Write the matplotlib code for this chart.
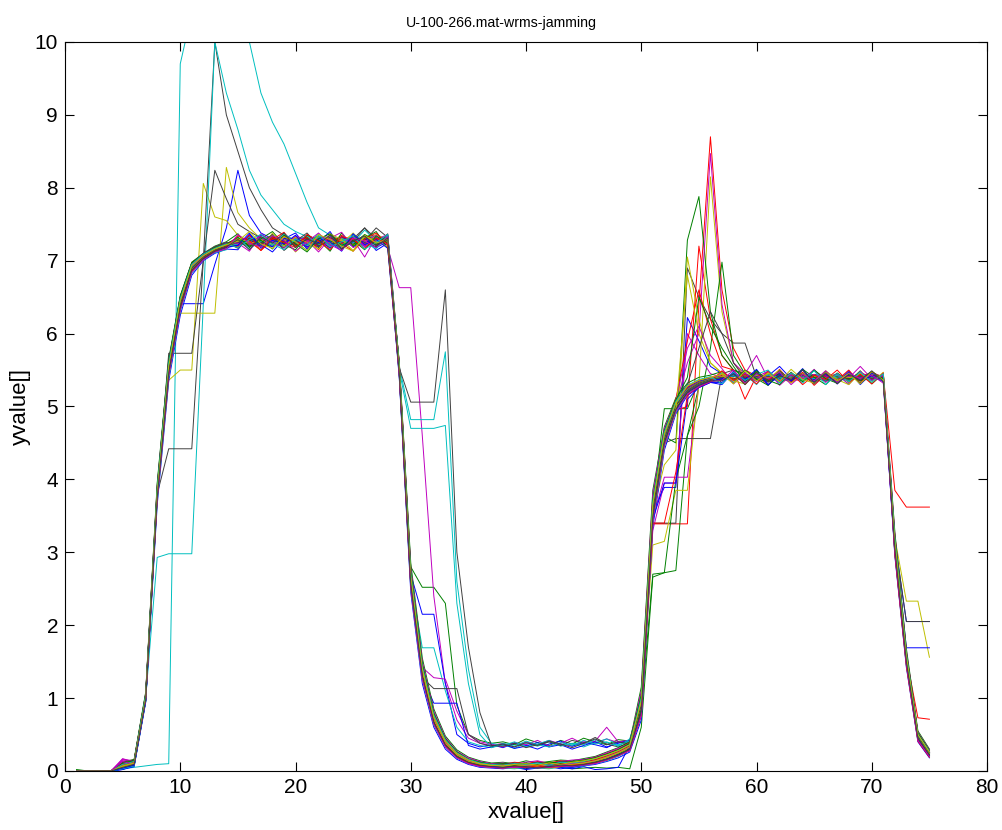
import matplotlib
matplotlib.use("Agg")
import matplotlib.pyplot as plt

plt.rcParams['font.family'] = ['Liberation Sans', 'DejaVu Sans']

# sample index 1..75
x = list(range(1, 76))

# one list per trace (75 values each)
s01 = [0, 0, 0, 0, 0.05, 0.12, 0.98, 3.75, 5.45, 6.41, 6.41, 6.41, 6.95, 7.45,
       8.24, 7.62, 7.38, 7.30, 7.22, 7.28, 7.33, 7.20, 7.27, 7.31, 7.24, 7.29, 7.22, 7.30,
       5.45, 2.55, 1.30, 0.68, 0.36, 0.21, 0.13, 0.09, 0.07,
       0.06, 0.07, 0.05, 0.08, 0.06, 0.09, 0.08, 0.11, 0.14, 0.19, 0.25, 0.33,
       0.85, 3.55, 4.52, 4.98, 5.20, 5.31, 5.36,
       5.41, 5.35, 5.44, 5.38, 5.42, 5.33, 5.40, 5.45, 5.37, 5.41, 5.36, 5.43, 5.39, 5.42, 5.40,
       3.15, 2.05, 2.05, 2.05]
s02 = [0.02, 0, 0, 0, 0.10, 0.08, 1.02, 3.82, 5.52, 6.42, 6.92, 7.06, 7.14, 7.22,
       7.26, 7.20, 7.31, 7.25, 7.18, 7.29, 7.23, 7.34, 7.21, 7.27, 7.30, 7.24, 7.32, 7.28,
       5.55, 2.80, 2.52, 2.52, 2.30, 0.90, 0.50, 0.42, 0.38,
       0.40, 0.36, 0.44, 0.39, 0.35, 0.42, 0.37, 0.45, 0.40, 0.36, 0.43, 0.41,
       0.95, 3.62, 4.97, 4.97, 4.97, 5.34, 5.38,
       5.38, 5.44, 5.36, 5.41, 5.35, 5.43, 5.39, 5.46, 5.34, 5.40, 5.38, 5.42, 5.37, 5.41, 5.39,
       3.05, 1.52, 0.46, 0.24]
s03 = [0, 0, 0, 0, 0.06, 0.13, 1.00, 3.78, 5.50, 6.38, 6.88, 7.03, 7.16, 7.19,
       7.22, 7.30, 7.19, 7.27, 7.33, 7.21, 7.26, 7.29, 7.18, 7.31, 7.25, 7.22, 7.28, 7.33,
       5.48, 2.62, 1.33, 0.71, 0.37, 0.20, 0.12, 0.08, 0.06,
       0.05, 0.06, 0.07, 0.05, 0.08, 0.07, 0.09, 0.10, 0.12, 0.17, 0.23, 0.30,
       0.88, 3.39, 3.39, 3.39, 3.39, 6.40, 8.70,
       6.60, 5.80, 5.50, 5.42, 5.30, 5.44, 5.38, 5.35, 5.43, 5.40, 5.36, 5.41, 5.38, 5.44, 5.40,
       3.12, 1.58, 0.50, 0.26]
s04 = [0, 0, 0, 0, 0.03, 0.05, 0.07, 0.09, 0.10, 9.70, 10.40, 10.80, 10.90, 10.70,
       10.40, 10.00, 9.30, 8.90, 8.60, 8.20, 7.80, 7.45, 7.35, 7.28, 7.22, 7.30, 7.26, 7.31,
       5.52, 2.58, 1.38, 0.72, 0.40, 0.24, 0.15, 0.10, 0.08,
       0.07, 0.06, 0.08, 0.07, 0.09, 0.08, 0.10, 0.12, 0.15, 0.20, 0.26, 0.35,
       0.92, 3.58, 4.55, 5.02, 5.24, 5.33, 5.37,
       5.42, 5.37, 5.40, 5.44, 5.36, 5.41, 5.38, 5.43, 5.35, 5.40, 5.45, 5.37, 5.41, 5.38, 5.42,
       3.08, 1.55, 0.47, 0.25]
s05 = [0, 0, 0, 0, 0.17, 0.12, 0.99, 3.81, 5.48, 6.41, 6.91, 7.04, 7.13, 7.21,
       7.28, 7.24, 7.32, 7.19, 7.26, 7.30, 7.23, 7.27, 7.35, 7.20, 7.29, 7.05, 7.33, 7.18,
       6.63, 6.63, 4.60, 2.40, 1.20, 0.70, 0.45, 0.38, 0.35,
       0.38, 0.33, 0.40, 0.36, 0.42, 0.37, 0.34, 0.41, 0.38, 0.44, 0.39, 0.42,
       1.00, 3.50, 4.50, 4.96, 5.21, 5.30, 5.36,
       5.39, 5.43, 5.36, 5.41, 5.48, 5.35, 5.40, 5.37, 5.44, 5.39, 5.34, 5.42, 5.40, 5.36, 5.41,
       3.10, 1.53, 0.49, 0.26]
s06 = [0, 0, 0, 0, 0.07, 0.09, 1.01, 3.79, 5.36, 5.50, 5.50, 8.06, 7.60, 7.55,
       7.35, 7.26, 7.21, 7.30, 7.24, 7.28, 7.19, 7.32, 7.25, 7.22, 7.30, 7.27, 7.36, 7.29,
       5.50, 2.63, 1.36, 0.69, 0.39, 0.23, 0.14, 0.10, 0.07,
       0.06, 0.08, 0.06, 0.07, 0.05, 0.08, 0.09, 0.11, 0.13, 0.18, 0.24, 0.31,
       0.90, 3.61, 4.56, 5.01, 5.23, 5.32, 5.38,
       5.40, 5.36, 5.42, 5.38, 5.45, 5.39, 5.33, 5.41, 5.37, 5.43, 5.40, 5.36, 5.42, 5.46, 5.41,
       3.20, 2.33, 2.33, 1.56]
s07 = [0, 0, 0, 0, 0.04, 0.10, 0.97, 3.80, 4.42, 4.42, 4.42, 7.00, 10.00, 9.00,
       8.50, 8.00, 7.70, 7.45, 7.35, 7.28, 7.22, 7.30, 7.25, 7.33, 7.21, 7.27, 7.45, 7.32,
       5.53, 2.57, 1.34, 0.70, 0.38, 0.22, 0.13, 0.09, 0.07,
       0.06, 0.05, 0.07, 0.06, 0.08, 0.06, 0.08, 0.10, 0.13, 0.18, 0.25, 0.32,
       0.86, 3.40, 3.40, 3.40, 6.90, 6.50, 6.20,
       6.00, 5.87, 5.87, 5.40, 5.36, 5.40, 5.43, 5.37, 5.41, 5.35, 5.42, 5.39, 5.44, 5.38, 5.40,
       3.14, 1.57, 0.48, 0.25]
s08 = [0, 0, 0, 0, 0.09, 0.11, 1.03, 3.83, 5.53, 6.44, 6.93, 7.07, 7.17, 7.18,
       7.24, 7.31, 7.27, 7.20, 7.29, 7.23, 7.35, 7.26, 7.22, 7.30, 7.19, 7.28, 7.24, 7.35,
       5.47, 2.70, 2.15, 2.15, 1.20, 0.50, 0.38, 0.33, 0.36,
       0.32, 0.38, 0.35, 0.30, 0.37, 0.41, 0.34, 0.39, 0.36, 0.32, 0.40, 0.38,
       0.83, 3.56, 3.89, 3.89, 6.22, 5.90, 5.55,
       5.45, 5.38, 5.41, 5.36, 5.43, 5.39, 5.46, 5.35, 5.40, 5.42, 5.37, 5.44, 5.38, 5.41, 5.39,
       3.18, 1.69, 1.69, 1.69]
s09 = [0, 0, 0, 0, 0.03, 0.07, 0.96, 3.77, 5.47, 6.36, 6.87, 7.02, 7.12, 7.20,
       7.30, 7.23, 7.26, 7.34, 7.21, 7.25, 7.29, 7.18, 7.32, 7.26, 7.23, 7.36, 7.27, 7.26,
       5.49, 2.59, 1.31, 0.67, 0.35, 0.19, 0.11, 0.07, 0.05,
       0.04, 0.05, 0.03, 0.06, 0.04, 0.05, 0.03, 0.04, 0.05, 0.04, 0.05, 0.03,
       0.60, 2.66, 2.72, 2.75, 4.60, 5.28, 5.36,
       5.37, 5.41, 5.45, 5.38, 5.34, 5.42, 5.39, 5.36, 5.44, 5.40, 5.37, 5.43, 5.35, 5.40, 5.38,
       3.02, 1.50, 0.45, 0.22]
s10 = [0, 0, 0, 0, 0.11, 0.14, 1.04, 3.84, 5.56, 6.46, 6.95, 7.08, 7.18, 7.23,
       7.21, 7.27, 7.32, 7.24, 7.20, 7.33, 7.26, 7.22, 7.29, 7.17, 7.34, 7.28, 7.23, 7.29,
       5.56, 2.66, 1.40, 0.74, 0.41, 0.24, 0.15, 0.11, 0.08,
       0.07, 0.09, 0.08, 0.06, 0.09, 0.10, 0.11, 0.12, 0.16, 0.21, 0.27, 0.36,
       0.98, 3.66, 4.62, 4.95, 5.00, 7.20, 6.20,
       5.70, 5.50, 5.10, 5.42, 5.38, 5.45, 5.37, 5.41, 5.36, 5.44, 5.39, 5.42, 5.35, 5.40, 5.43,
       3.16, 1.59, 0.51, 0.27]
s11 = [0, 0, 0, 0, 0.06, 0.11, 1.00, 2.93, 2.98, 2.98, 2.98, 6.40, 10.00, 9.30,
       8.80, 8.24, 7.90, 7.70, 7.50, 7.40, 7.33, 7.27, 7.22, 7.30, 7.25, 7.31, 7.24, 7.29,
       5.46, 2.61, 1.69, 1.69, 1.10, 0.60, 0.40, 0.35, 0.32,
       0.36, 0.31, 0.38, 0.34, 0.40, 0.35, 0.37, 0.33, 0.39, 0.44, 0.36, 0.41,
       0.94, 3.59, 4.58, 5.04, 5.25, 5.34, 5.39,
       5.40, 5.44, 5.37, 5.42, 5.38, 5.35, 5.41, 5.46, 5.38, 5.36, 5.42, 5.40, 5.37, 5.43, 5.38,
       3.11, 1.56, 0.49, 0.24]
s12 = [0, 0, 0, 0, 0.14, 0.09, 0.98, 3.76, 5.46, 6.39, 6.89, 7.05, 7.14, 7.17,
       7.25, 7.19, 7.28, 7.33, 7.22, 7.26, 7.31, 7.24, 7.20, 7.28, 7.32, 7.23, 7.27, 7.34,
       5.58, 2.68, 1.42, 1.28, 1.26, 0.82, 0.50, 0.40, 0.37,
       0.33, 0.39, 0.36, 0.42, 0.34, 0.38, 0.45, 0.37, 0.41, 0.60, 0.40, 0.42,
       0.96, 3.45, 4.03, 4.03, 4.03, 5.30, 5.37,
       5.43, 5.39, 5.35, 5.42, 5.40, 5.37, 5.45, 5.38, 5.41, 5.36, 5.43, 5.40, 5.38, 5.44, 5.41,
       3.09, 1.54, 0.47, 0.25]
s13 = [0, 0, 0, 0, 0.05, 0.10, 1.02, 3.81, 5.51, 6.28, 6.28, 6.28, 6.28, 8.28,
       7.66, 7.45, 7.30, 7.24, 7.28, 7.21, 7.33, 7.26, 7.19, 7.30, 7.27, 7.22, 7.29, 7.31,
       5.51, 2.64, 1.37, 0.72, 0.38, 0.22, 0.14, 0.09, 0.06,
       0.05, 0.07, 0.08, 0.06, 0.07, 0.09, 0.08, 0.11, 0.14, 0.19, 0.24, 0.32,
       0.91, 3.10, 3.15, 3.85, 3.85, 5.30, 8.15,
       6.30, 5.60, 5.42, 5.38, 5.44, 5.36, 5.40, 5.43, 5.37, 5.41, 5.39, 5.35, 5.42, 5.38, 5.41,
       3.07, 1.53, 0.48, 0.24]
s14 = [0, 0, 0, 0, 0.08, 0.12, 1.01, 3.80, 5.73, 5.73, 5.73, 7.00, 8.24, 7.85,
       7.50, 7.40, 7.31, 7.26, 7.22, 7.29, 7.25, 7.33, 7.27, 7.21, 7.30, 7.45, 7.24, 7.30,
       5.50, 2.60, 1.35, 0.70, 0.37, 0.21, 0.13, 0.09, 0.07,
       0.06, 0.07, 0.06, 0.08, 0.07, 0.06, 0.09, 0.10, 0.13, 0.17, 0.24, 0.31,
       0.87, 3.52, 4.50, 4.56, 4.56, 4.56, 4.56,
       5.45, 5.50, 5.45, 5.38, 5.42, 5.36, 5.40, 5.44, 5.37, 5.41, 5.38, 5.43, 5.36, 5.40, 5.39,
       3.13, 1.56, 0.48, 0.25]
s15 = [0, 0, 0, 0, 0.02, 0.08, 0.97, 3.79, 5.49, 6.43, 6.92, 7.06, 7.16, 7.22,
       7.27, 7.23, 7.35, 7.28, 7.21, 7.24, 7.30, 7.19, 7.33, 7.25, 7.28, 7.20, 7.32, 7.27,
       5.52, 2.57, 1.30, 0.93, 0.93, 0.93, 0.35, 0.30, 0.33,
       0.37, 0.31, 0.34, 0.39, 0.33, 0.36, 0.30, 0.35, 0.40, 0.33, 0.38, 0.42,
       0.89, 3.63, 4.57, 5.03, 5.26, 5.35, 5.39,
       5.36, 5.42, 5.39, 5.45, 5.37, 5.40, 5.34, 5.43, 5.39, 5.41, 5.37, 5.44, 5.40, 5.36, 5.42,
       3.04, 1.51, 0.46, 0.23]
s16 = [0, 0, 0, 0, 0.10, 0.13, 1.03, 3.85, 5.54, 6.45, 6.94, 7.08, 7.15, 7.19,
       7.23, 7.29, 7.24, 7.31, 7.27, 7.20, 7.28, 7.34, 7.23, 7.26, 7.22, 7.33, 7.21, 7.28,
       5.54, 2.65, 1.39, 0.73, 0.40, 0.23, 0.14, 0.10, 0.08,
       0.07, 0.08, 0.07, 0.09, 0.08, 0.10, 0.09, 0.12, 0.15, 0.20, 0.26, 0.34,
       0.93, 3.64, 4.59, 4.50, 7.28, 7.88, 6.30,
       5.70, 5.50, 5.42, 5.37, 5.43, 5.39, 5.35, 5.41, 5.44, 5.38, 5.40, 5.36, 5.42, 5.39, 5.41,
       3.06, 1.52, 0.47, 0.24]
s17 = [0, 0, 0, 0, 0.13, 0.15, 1.05, 3.86, 5.57, 6.47, 6.96, 7.09, 7.19, 7.24,
       7.29, 7.22, 7.26, 7.30, 7.25, 7.32, 7.20, 7.28, 7.24, 7.35, 7.23, 7.29, 7.26, 7.33,
       5.57, 2.67, 1.41, 0.75, 0.42, 0.25, 0.15, 0.11, 0.09,
       0.08, 0.07, 0.09, 0.08, 0.10, 0.11, 0.12, 0.14, 0.17, 0.22, 0.28, 0.37,
       0.99, 3.68, 4.63, 5.06, 5.27, 5.36, 5.40,
       5.44, 5.38, 5.42, 5.36, 5.40, 5.45, 5.39, 5.37, 5.42, 5.40, 5.44, 5.38, 5.46, 5.41, 5.43,
       3.85, 3.62, 3.62, 3.62]
s18 = [0, 0, 0, 0, 0.07, 0.10, 0.99, 3.78, 5.49, 6.40, 6.90, 7.04, 7.14, 7.20,
       7.26, 7.32, 7.21, 7.27, 7.30, 7.24, 7.19, 7.29, 7.33, 7.22, 7.27, 7.31, 7.25, 7.28,
       5.55, 4.82, 4.82, 4.82, 5.75, 2.60, 1.40, 0.60, 0.38,
       0.35, 0.40, 0.33, 0.37, 0.42, 0.34, 0.38, 0.36, 0.43, 0.39, 0.35, 0.41,
       0.92, 3.57, 4.54, 5.00, 5.22, 5.31, 5.37,
       5.41, 5.37, 5.43, 5.39, 5.36, 5.42, 5.38, 5.44, 5.40, 5.35, 5.41, 5.39, 5.43, 5.37, 5.40,
       3.10, 1.55, 0.48, 0.25]
s19 = [0, 0, 0, 0, 0.12, 0.11, 1.00, 3.82, 5.52, 6.42, 6.91, 7.06, 7.17, 7.21,
       7.22, 7.28, 7.33, 7.20, 7.26, 7.29, 7.24, 7.21, 7.30, 7.27, 7.33, 7.19, 7.29, 7.36,
       5.51, 2.62, 1.36, 0.71, 0.38, 0.22, 0.13, 0.09, 0.07,
       0.06, 0.07, 0.08, 0.06, 0.09, 0.07, 0.10, 0.11, 0.14, 0.20, 0.26, 0.34,
       0.90, 3.60, 4.56, 5.02, 5.60, 6.00, 8.47,
       6.40, 5.60, 5.45, 5.70, 5.38, 5.42, 5.36, 5.40, 5.44, 5.37, 5.41, 5.39, 5.55, 5.38, 5.42,
       3.12, 1.57, 0.49, 0.26]
s20 = [0, 0, 0, 0, 0.04, 0.09, 0.98, 3.77, 5.47, 6.37, 6.88, 7.03, 7.13, 7.18,
       7.25, 7.21, 7.29, 7.34, 7.23, 7.27, 7.20, 7.31, 7.26, 7.24, 7.38, 7.22, 7.28, 7.25,
       5.49, 2.61, 1.34, 0.69, 0.37, 0.21, 0.12, 0.08, 0.06,
       0.09, 0.06, 0.07, 0.08, 0.06, 0.07, 0.08, 0.10, 0.13, 0.18, 0.24, 0.31,
       0.88, 3.55, 4.20, 4.40, 7.05, 6.20, 5.60,
       5.45, 5.39, 5.36, 5.43, 5.40, 5.38, 5.44, 5.35, 5.41, 5.39, 5.42, 5.37, 5.40, 5.44, 5.39,
       3.03, 1.50, 0.45, 0.23]
s21 = [0, 0, 0, 0, 0.09, 0.10, 1.01, 3.79, 5.50, 6.41, 6.90, 7.05, 7.15, 7.22,
       7.24, 7.30, 7.26, 7.22, 7.29, 7.25, 7.31, 7.23, 7.28, 7.20, 7.26, 7.45, 7.30, 7.32,
       5.53, 5.06, 5.06, 5.06, 6.60, 3.00, 1.70, 0.80, 0.35,
       0.34, 0.38, 0.32, 0.36, 0.40, 0.35, 0.42, 0.38, 0.46, 0.37, 0.33, 0.39,
       0.85, 3.54, 4.51, 4.97, 5.21, 5.31, 5.36,
       5.39, 5.43, 5.37, 5.41, 5.36, 5.44, 5.40, 5.38, 5.42, 5.35, 5.41, 5.39, 5.43, 5.38, 5.40,
       3.17, 2.05, 2.05, 2.05]
s22 = [0, 0, 0, 0, 0.06, 0.09, 0.99, 3.80, 5.51, 6.39, 6.89, 7.04, 7.14, 7.19,
       7.21, 7.34, 7.24, 7.19, 7.31, 7.26, 7.22, 7.29, 7.17, 7.33, 7.25, 7.30, 7.18, 7.26,
       5.48, 2.59, 1.32, 0.69, 0.36, 0.20, 0.12, 0.08, 0.06,
       0.05, 0.04, 0.06, 0.05, 0.07, 0.05, 0.03, 0.06, 0.02, 0.03, 0.05, 0.35,
       0.80, 3.50, 4.49, 4.95, 5.19, 5.29, 5.35,
       5.38, 5.45, 5.40, 5.36, 5.42, 5.55, 5.38, 5.44, 5.37, 5.41, 5.36, 5.42, 5.39, 5.43, 5.40,
       3.09, 1.54, 0.47, 0.24]
s23 = [0, 0, 0, 0, 0.03, 0.08, 0.96, 3.78, 5.48, 6.38, 6.87, 7.03, 7.13, 7.21,
       7.28, 7.25, 7.20, 7.33, 7.24, 7.27, 7.32, 7.21, 7.26, 7.29, 7.22, 7.34, 7.23, 7.27,
       5.47, 2.58, 1.33, 0.70, 0.37, 0.21, 0.13, 0.09, 0.07,
       0.06, 0.05, 0.07, 0.06, 0.05, 0.08, 0.07, 0.09, 0.12, 0.16, 0.23, 0.30,
       0.84, 2.70, 2.72, 4.00, 4.60, 5.00, 5.80,
       6.98, 5.70, 5.45, 5.36, 5.41, 5.38, 5.43, 5.37, 5.40, 5.35, 5.42, 5.38, 5.41, 5.37, 5.39,
       3.01, 1.49, 0.44, 0.22]
s24 = [0, 0, 0, 0, 0.10, 0.14, 1.02, 3.83, 5.53, 6.43, 6.93, 7.07, 7.16, 7.23,
       7.30, 7.26, 7.22, 7.29, 7.33, 7.24, 7.27, 7.20, 7.31, 7.25, 7.28, 7.23, 7.30, 7.26,
       5.52, 2.63, 1.37, 0.72, 0.39, 0.23, 0.14, 0.10, 0.08,
       0.07, 0.08, 0.06, 0.07, 0.09, 0.08, 0.10, 0.12, 0.15, 0.21, 0.27, 0.35,
       0.95, 3.63, 4.58, 5.03, 5.24, 5.33, 5.38,
       5.42, 5.36, 5.40, 5.44, 5.38, 5.41, 5.37, 5.43, 5.39, 5.42, 5.36, 5.40, 5.45, 5.39, 5.41,
       3.14, 1.56, 0.73, 0.71]
s25 = [0, 0, 0, 0, 0.08, 0.12, 1.00, 3.81, 5.50, 6.41, 6.91, 7.05, 7.16, 7.20,
       7.23, 7.27, 7.31, 7.25, 7.20, 7.28, 7.34, 7.22, 7.27, 7.30, 7.24, 7.42, 7.27, 7.30,
       5.50, 4.70, 4.70, 4.70, 4.74, 2.30, 1.20, 0.50, 0.32,
       0.38, 0.34, 0.41, 0.36, 0.33, 0.39, 0.35, 0.42, 0.37, 0.40, 0.34, 0.44,
       0.97, 3.61, 4.57, 5.04, 5.23, 5.32, 5.38,
       5.40, 5.42, 5.38, 5.35, 5.43, 5.40, 5.37, 5.42, 5.38, 5.44, 5.39, 5.36, 5.41, 5.40, 5.38,
       3.08, 1.55, 0.48, 0.25]
s26 = [0, 0, 0, 0, 0.15, 0.13, 1.03, 3.84, 5.55, 6.44, 6.94, 7.07, 7.17, 7.24,
       7.26, 7.22, 7.30, 7.27, 7.23, 7.31, 7.18, 7.26, 7.29, 7.24, 7.32, 7.21, 7.28, 7.30,
       5.56, 2.66, 1.39, 0.73, 0.40, 0.23, 0.14, 0.10, 0.08,
       0.07, 0.06, 0.08, 0.09, 0.07, 0.08, 0.10, 0.11, 0.14, 0.19, 0.25, 0.33,
       0.92, 3.30, 3.95, 3.95, 6.00, 5.70, 5.45,
       5.40, 5.37, 5.43, 5.39, 5.41, 5.36, 5.44, 5.38, 5.40, 5.42, 5.37, 5.41, 5.39, 5.47, 5.40,
       3.11, 1.56, 0.49, 0.25]
s27 = [0, 0, 0, 0, 0.05, 0.11, 0.99, 3.80, 5.50, 6.40, 6.89, 7.05, 7.15, 7.21,
       7.27, 7.24, 7.28, 7.22, 7.30, 7.12, 7.26, 7.31, 7.24, 7.28, 7.21, 7.27, 7.33, 7.25,
       5.50, 2.60, 1.35, 0.70, 0.38, 0.22, 0.13, 0.09, 0.07,
       0.06, 0.08, 0.07, 0.06, 0.08, 0.07, 0.09, 0.11, 0.14, 0.19, 0.25, 0.33,
       0.91, 3.58, 4.55, 5.00, 5.22, 5.32, 5.37,
       5.41, 5.38, 5.42, 5.36, 5.40, 5.43, 5.39, 5.37, 5.41, 5.38, 5.42, 5.40, 5.37, 5.41, 5.39,
       3.10, 1.55, 0.48, 0.24]
s28 = [0, 0, 0, 0, 0.07, 0.10, 1.00, 3.80, 5.50, 6.40, 6.90, 7.05, 7.15, 7.20,
       7.25, 7.28, 7.23, 7.30, 7.26, 7.22, 7.29, 7.25, 7.32, 7.24, 7.27, 7.30, 7.22, 7.28,
       5.50, 2.62, 1.28, 1.13, 1.13, 1.13, 0.50, 0.38, 0.34,
       0.37, 0.33, 0.39, 0.35, 0.41, 0.37, 0.32, 0.38, 0.44, 0.36, 0.40, 0.37,
       0.90, 3.58, 4.55, 5.01, 5.22, 5.32, 5.37,
       5.40, 5.38, 5.42, 5.37, 5.41, 5.39, 5.36, 5.43, 5.40, 5.38, 5.42, 5.37, 5.41, 5.39, 5.40,
       3.10, 1.55, 0.48, 0.25]
s29 = [0, 0, 0, 0, 0.02, 0.06, 0.94, 3.65, 5.35, 6.25, 6.80, 7.00, 7.10, 7.16,
       7.15, 7.36, 7.22, 7.12, 7.30, 7.38, 7.19, 7.25, 7.40, 7.16, 7.27, 7.33, 7.14, 7.24,
       5.40, 2.45, 1.20, 0.60, 0.30, 0.16, 0.09, 0.05, 0.04,
       0.03, 0.05, 0.02, 0.04, 0.06, 0.03, 0.05, 0.07, 0.09, 0.13, 0.18, 0.26,
       0.70, 3.35, 4.40, 4.90, 5.15, 5.26, 5.33,
       5.30, 5.48, 5.34, 5.50, 5.29, 5.45, 5.36, 5.52, 5.31, 5.44, 5.33, 5.49, 5.30, 5.46, 5.36,
       2.95, 1.42, 0.40, 0.18]
s30 = [0, 0, 0, 0, 0.12, 0.16, 1.08, 3.95, 5.65, 6.52, 6.98, 7.10, 7.20, 7.26,
       7.37, 7.18, 7.30, 7.40, 7.22, 7.15, 7.35, 7.28, 7.13, 7.38, 7.20, 7.31, 7.40, 7.17,
       5.62, 2.85, 1.55, 0.85, 0.48, 0.29, 0.19, 0.14, 0.11,
       0.12, 0.10, 0.14, 0.11, 0.13, 0.15, 0.14, 0.17, 0.20, 0.26, 0.32, 0.40,
       1.15, 3.85, 4.72, 5.12, 5.32, 5.40, 5.43,
       5.48, 5.32, 5.50, 5.38, 5.29, 5.47, 5.35, 5.51, 5.40, 5.30, 5.46, 5.34, 5.49, 5.31, 5.45,
       3.28, 1.68, 0.55, 0.30]
s31 = [0, 0, 0, 0, 0.08, 0.13, 1.02, 3.88, 5.60, 6.50, 6.97, 7.09, 7.18, 7.22,
       7.19, 7.35, 7.14, 7.29, 7.39, 7.20, 7.32, 7.15, 7.36, 7.24, 7.13, 7.30, 7.38, 7.21,
       5.60, 2.75, 1.48, 0.80, 0.45, 0.26, 0.17, 0.12, 0.10,
       0.09, 0.12, 0.10, 0.13, 0.11, 0.14, 0.12, 0.15, 0.19, 0.24, 0.30, 0.39,
       1.05, 3.75, 4.68, 5.10, 5.90, 6.60, 6.00,
       5.55, 5.50, 5.30, 5.46, 5.35, 5.51, 5.33, 5.47, 5.29, 5.44, 5.36, 5.50, 5.32, 5.48, 5.37,
       3.22, 1.62, 0.52, 0.28]
s32 = [0, 0, 0, 0, 0.03, 0.07, 0.95, 3.70, 5.40, 6.30, 6.83, 7.01, 7.11, 7.15,
       7.33, 7.16, 7.27, 7.21, 7.37, 7.26, 7.14, 7.34, 7.23, 7.19, 7.36, 7.25, 7.16, 7.35,
       5.42, 2.50, 1.25, 0.63, 0.33, 0.18, 0.10, 0.06, 0.05,
       0.04, 0.03, 0.05, 0.04, 0.03, 0.06, 0.05, 0.07, 0.10, 0.14, 0.20, 0.28,
       0.75, 3.40, 4.45, 4.92, 5.17, 5.28, 5.34,
       5.47, 5.33, 5.44, 5.30, 5.49, 5.37, 5.45, 5.32, 5.50, 5.36, 5.43, 5.31, 5.47, 5.35, 5.44,
       2.98, 1.45, 0.42, 0.20]
s33 = [0, 0, 0, 0, 0.16, 0.14, 1.06, 3.90, 5.62, 6.49, 6.96, 7.10, 7.19, 7.25,
       7.24, 7.13, 7.37, 7.26, 7.17, 7.34, 7.28, 7.12, 7.31, 7.39, 7.18, 7.26, 7.35, 7.22,
       5.61, 2.78, 1.50, 0.82, 0.46, 0.27, 0.18, 0.13, 0.10,
       0.11, 0.09, 0.12, 0.14, 0.10, 0.13, 0.15, 0.16, 0.19, 0.25, 0.31, 0.38,
       1.10, 3.80, 4.70, 5.08, 5.80, 6.10, 5.70,
       5.52, 5.31, 5.46, 5.34, 5.49, 5.29, 5.43, 5.37, 5.51, 5.33, 5.45, 5.30, 5.48, 5.36, 5.44,
       3.25, 1.65, 0.53, 0.29]
s34 = [0, 0, 0, 0, 0.06, 0.10, 0.98, 3.72, 5.42, 6.33, 6.85, 7.02, 7.12, 7.17,
       7.30, 7.26, 7.15, 7.38, 7.20, 7.32, 7.25, 7.16, 7.37, 7.29, 7.14, 7.33, 7.27, 7.19,
       5.44, 2.52, 1.27, 0.65, 0.34, 0.19, 0.11, 0.07, 0.05,
       0.05, 0.04, 0.06, 0.05, 0.04, 0.06, 0.07, 0.08, 0.11, 0.15, 0.21, 0.29,
       0.78, 3.42, 4.46, 4.93, 6.80, 6.00, 5.60,
       5.46, 5.35, 5.31, 5.48, 5.38, 5.50, 5.32, 5.45, 5.34, 5.49, 5.37, 5.30, 5.46, 5.33, 5.47,
       2.99, 1.46, 0.43, 0.20]
s35 = [0, 0, 0, 0, 0.10, 0.15, 1.06, 3.92, 5.63, 6.51, 6.97, 7.10, 7.19, 7.25,
       7.17, 7.31, 7.24, 7.36, 7.14, 7.27, 7.38, 7.20, 7.29, 7.15, 7.34, 7.25, 7.19, 7.37,
       5.59, 2.72, 1.45, 0.78, 0.44, 0.26, 0.16, 0.12, 0.09,
       0.10, 0.11, 0.09, 0.12, 0.10, 0.13, 0.12, 0.14, 0.18, 0.23, 0.29, 0.37,
       1.02, 3.70, 4.66, 5.08, 5.30, 5.80, 6.30,
       6.00, 5.60, 5.38, 5.47, 5.33, 5.49, 5.36, 5.44, 5.31, 5.48, 5.35, 5.46, 5.32, 5.43, 5.38,
       3.20, 1.61, 0.51, 0.27]
s36 = [0, 0, 0, 0, 0.04, 0.08, 0.96, 3.74, 5.44, 6.34, 6.86, 7.02, 7.12, 7.18,
       7.21, 7.38, 7.17, 7.28, 7.23, 7.35, 7.16, 7.31, 7.26, 7.13, 7.37, 7.22, 7.29, 7.17,
       5.45, 2.54, 1.29, 0.66, 0.35, 0.19, 0.11, 0.07, 0.06,
       0.05, 0.06, 0.04, 0.05, 0.07, 0.06, 0.05, 0.08, 0.11, 0.16, 0.22, 0.29,
       0.79, 3.45, 3.95, 3.95, 5.10, 5.26, 5.33,
       5.33, 5.46, 5.37, 5.51, 5.30, 5.43, 5.35, 5.50, 5.34, 5.45, 5.31, 5.47, 5.36, 5.42, 5.34,
       3.00, 1.47, 0.43, 0.21]
s37 = [0, 0, 0, 0, 0.11, 0.14, 1.05, 3.89, 5.61, 6.50, 6.97, 7.09, 7.18, 7.23,
       7.32, 7.20, 7.28, 7.16, 7.35, 7.23, 7.12, 7.30, 7.37, 7.21, 7.28, 7.15, 7.34, 7.24,
       5.58, 2.73, 1.46, 0.79, 0.44, 0.26, 0.16, 0.12, 0.09,
       0.10, 0.08, 0.11, 0.09, 0.12, 0.11, 0.13, 0.15, 0.18, 0.23, 0.29, 0.38,
       1.04, 3.72, 4.66, 5.09, 5.40, 6.50, 6.10,
       5.80, 5.55, 5.33, 5.49, 5.36, 5.30, 5.47, 5.34, 5.50, 5.38, 5.32, 5.46, 5.35, 5.48, 5.37,
       3.21, 1.63, 0.52, 0.28]
s38 = [0, 0, 0, 0, 0.09, 0.12, 1.00, 3.76, 5.45, 6.35, 6.86, 7.03, 7.13, 7.19,
       7.34, 7.27, 7.14, 7.32, 7.25, 7.18, 7.36, 7.27, 7.15, 7.33, 7.29, 7.17, 7.31, 7.23,
       5.46, 2.55, 1.30, 0.66, 0.35, 0.19, 0.11, 0.07, 0.05,
       0.04, 0.06, 0.05, 0.07, 0.05, 0.06, 0.08, 0.09, 0.11, 0.15, 0.21, 0.28,
       0.76, 3.40, 3.40, 4.10, 5.16, 5.27, 5.34,
       5.49, 5.36, 5.44, 5.31, 5.48, 5.34, 5.46, 5.30, 5.43, 5.37, 5.50, 5.33, 5.44, 5.31, 5.46,
       2.97, 1.44, 0.41, 0.19]
s39 = [0, 0, 0, 0, 0.09, 0.13, 1.04, 3.87, 5.59, 6.48, 6.95, 7.09, 7.17, 7.23,
       7.18, 7.29, 7.36, 7.23, 7.15, 7.30, 7.21, 7.37, 7.19, 7.26, 7.34, 7.16, 7.25, 7.36,
       5.57, 2.70, 1.43, 0.77, 0.43, 0.25, 0.16, 0.11, 0.09,
       0.08, 0.10, 0.09, 0.11, 0.08, 0.12, 0.11, 0.13, 0.17, 0.22, 0.28, 0.36,
       1.00, 3.70, 4.65, 5.07, 5.29, 5.37, 5.41,
       5.31, 5.47, 5.36, 5.44, 5.50, 5.32, 5.46, 5.36, 5.49, 5.30, 5.45, 5.34, 5.47, 5.33, 5.45,
       3.19, 1.60, 0.50, 0.27]
s40 = [0, 0, 0, 0, 0.13, 0.09, 0.97, 3.73, 5.43, 6.32, 6.84, 7.01, 7.12, 7.16,
       7.36, 7.24, 7.19, 7.34, 7.28, 7.13, 7.26, 7.38, 7.22, 7.14, 7.31, 7.27, 7.18, 7.33,
       5.43, 2.51, 1.26, 0.64, 0.33, 0.18, 0.10, 0.06, 0.05,
       0.04, 0.05, 0.06, 0.04, 0.05, 0.07, 0.06, 0.08, 0.10, 0.15, 0.21, 0.28,
       0.77, 3.43, 4.46, 4.93, 5.17, 5.27, 5.34,
       5.36, 5.50, 5.32, 5.45, 5.38, 5.47, 5.30, 5.44, 5.35, 5.49, 5.33, 5.46, 5.38, 5.43, 5.32,
       2.99, 1.46, 0.42, 0.20]
s41 = [0, 0, 0, 0, 0.07, 0.11, 1.01, 3.83, 5.55, 6.45, 6.93, 7.07, 7.16, 7.22,
       7.27, 7.40, 7.23, 7.17, 7.33, 7.26, 7.14, 7.36, 7.29, 7.20, 7.13, 7.35, 7.24, 7.30,
       5.54, 2.67, 1.40, 0.74, 0.41, 0.24, 0.15, 0.10, 0.08,
       0.07, 0.09, 0.10, 0.08, 0.11, 0.09, 0.12, 0.14, 0.17, 0.22, 0.28, 0.36,
       0.96, 3.66, 4.62, 5.05, 5.28, 5.36, 5.40,
       5.44, 5.31, 5.49, 5.35, 5.46, 5.34, 5.51, 5.37, 5.32, 5.47, 5.35, 5.45, 5.31, 5.48, 5.36,
       3.15, 1.58, 0.50, 0.26]
s42 = [0, 0, 0, 0, 0.05, 0.09, 0.98, 3.75, 5.46, 6.36, 6.87, 7.03, 7.13, 7.19,
       7.29, 7.15, 7.33, 7.24, 7.38, 7.18, 7.30, 7.23, 7.35, 7.16, 7.27, 7.34, 7.20, 7.31,
       5.47, 2.56, 1.31, 0.67, 0.36, 0.20, 0.12, 0.08, 0.06,
       0.05, 0.07, 0.06, 0.04, 0.06, 0.08, 0.07, 0.09, 0.12, 0.16, 0.22, 0.30,
       0.82, 3.48, 4.50, 4.96, 5.19, 5.29, 5.35,
       5.35, 5.45, 5.30, 5.47, 5.34, 5.42, 5.37, 5.50, 5.33, 5.46, 5.31, 5.44, 5.36, 5.49, 5.34,
       3.05, 1.50, 0.45, 0.22]

traces = [s01, s02, s03, s04, s05, s06, s07, s08, s09, s10, s11, s12, s13, s14,
          s15, s16, s17, s18, s19, s20, s21, s22, s23, s24, s25, s26, s27, s28,
          s29, s30, s31, s32, s33, s34, s35, s36, s37, s38, s39, s40, s41, s42]

# old matlab color order: b g r c m y k
colors = [(0, 0, 1), (0, 0.5, 0), (1, 0, 0), (0, 0.75, 0.75),
          (0.75, 0, 0.75), (0.75, 0.75, 0), (0.25, 0.25, 0.25)]

fig = plt.figure(figsize=(10.03, 8.3), dpi=100)
ax = fig.add_axes([0.0648, 0.0711, 0.9193, 0.8783])

for i, y in enumerate(traces):
    ax.plot(x, y, color=colors[i % len(colors)], linewidth=0.7)

ax.set_xlim(0, 80)
ax.set_ylim(0, 10)
ax.set_xticks(range(0, 81, 10))
ax.set_yticks(range(0, 11))
ax.tick_params(direction='in', length=6.5, width=0.8, top=True, right=True,
               labelsize=15, pad=5)
for sp in ax.spines.values():
    sp.set_linewidth(0.8)

# matlab centres the title on the figure, not on the axes
ax.set_title('U-100-266.mat-wrms-jamming', fontsize=10.2, pad=11, x=0.4734)
ax.set_xlabel('xvalue[]', fontsize=16, labelpad=4)
ax.set_ylabel('yvalue[]', fontsize=16, labelpad=3)

fig.savefig('out.png', dpi=100)
